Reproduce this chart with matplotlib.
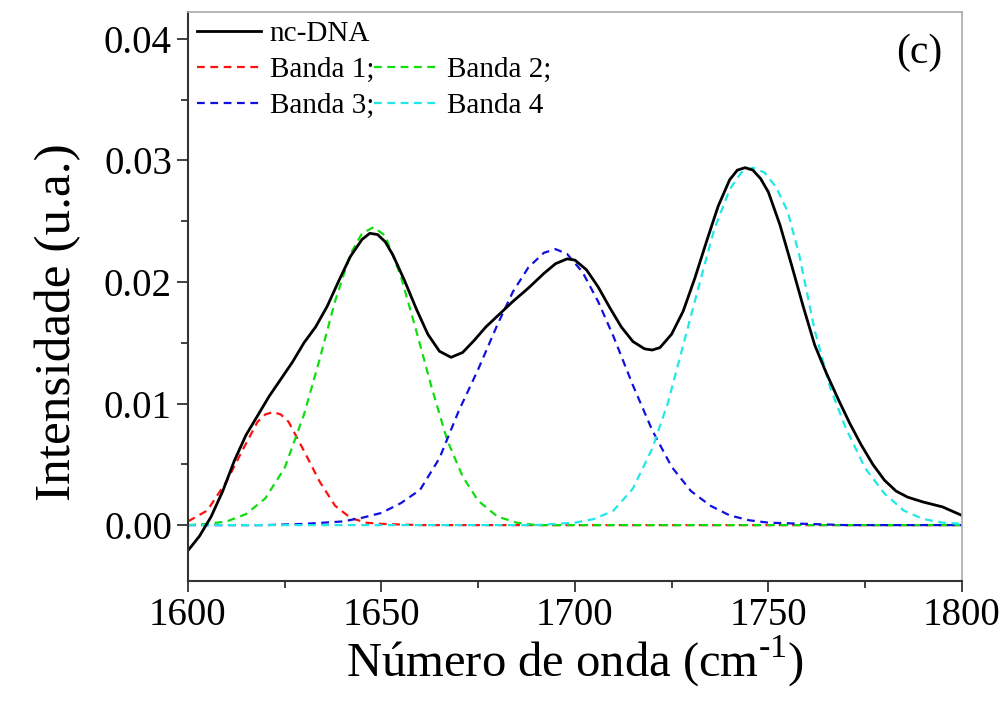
import numpy as np
import matplotlib
matplotlib.use("Agg")
import matplotlib.pyplot as plt
from matplotlib.ticker import MultipleLocator, FormatStrFormatter
from matplotlib.lines import Line2D

plt.rcParams['font.family'] = 'serif'
plt.rcParams['font.serif'] = ['Liberation Serif', 'DejaVu Serif']
plt.rcParams['mathtext.fontset'] = 'custom'
plt.rcParams['mathtext.rm'] = 'Liberation Serif'

# values
x_dna = [1600, 1603, 1606, 1609, 1612, 1615, 1618, 1621, 1624, 1627, 1630, 1633,
         1636, 1639, 1642, 1645, 1647, 1649, 1651, 1653, 1656, 1659, 1662, 1665,
         1668, 1671, 1674, 1677, 1680, 1684, 1688, 1692, 1695, 1698, 1700, 1703,
         1706, 1709, 1712, 1715, 1718, 1720, 1722, 1725, 1728, 1731, 1734, 1737,
         1740, 1742, 1744, 1746, 1748, 1750, 1753, 1756, 1759, 1762, 1765, 1768,
         1771, 1774, 1777, 1780, 1783, 1786, 1790, 1795, 1800]
y_dna = [-0.0021, -0.0009, 0.0007, 0.0028, 0.0053, 0.0074, 0.0090, 0.0106, 0.0120,
         0.0134, 0.0150, 0.0163, 0.0180, 0.0201, 0.0221, 0.0235, 0.0240, 0.0239,
         0.0233, 0.0222, 0.0201, 0.0178, 0.0157, 0.0143, 0.0138, 0.0142, 0.0152,
         0.0163, 0.0172, 0.0184, 0.0195, 0.0207, 0.0215, 0.0219, 0.0218, 0.0210,
         0.0196, 0.0179, 0.0163, 0.0151, 0.0145, 0.0144, 0.0146, 0.0157, 0.0176,
         0.0203, 0.0233, 0.0262, 0.0284, 0.0292, 0.0294, 0.0292, 0.0285, 0.0274,
         0.0247, 0.0214, 0.0180, 0.0148, 0.0125, 0.0104, 0.0084, 0.0066, 0.0050,
         0.0037, 0.0028, 0.0023, 0.0019, 0.0015, 0.0008]

x_b1 = [1600, 1605, 1610, 1614, 1618, 1620, 1622, 1624, 1626, 1630, 1634, 1638,
        1642, 1646, 1650, 1660, 1700, 1750, 1800]
y_b1 = [0.0003, 0.0012, 0.0036, 0.0061, 0.0085, 0.0091, 0.0093, 0.0091, 0.0085,
        0.0061, 0.0036, 0.0016, 0.0006, 0.0002, 0.0001, 0.0, 0.0, 0.0, 0.0]

x_b2 = [1600, 1605, 1610, 1615, 1620, 1625, 1630, 1634, 1638, 1642, 1645, 1648,
        1651, 1655, 1659, 1663, 1667, 1671, 1675, 1680, 1685, 1690, 1750, 1800]
y_b2 = [0.0000, 0.0001, 0.0003, 0.0009, 0.0022, 0.0047, 0.0091, 0.0136, 0.0184,
        0.0223, 0.0240, 0.0245, 0.0238, 0.0205, 0.0160, 0.0113, 0.0070, 0.0040,
        0.0020, 0.0007, 0.0002, 0.0000, 0.0, 0.0]

x_b3 = [1600, 1620, 1630, 1640, 1645, 1650, 1655, 1660, 1665, 1670, 1675, 1680,
        1684, 1688, 1692, 1695, 1698, 1702, 1706, 1710, 1715, 1720, 1725, 1730,
        1735, 1740, 1745, 1750, 1760, 1770, 1800]
y_b3 = [0.0, 0.0, 0.0001, 0.0003, 0.0006, 0.0010, 0.0018, 0.0029, 0.0055, 0.0094,
        0.0128, 0.0165, 0.0192, 0.0212, 0.0224, 0.0227, 0.0223, 0.0208, 0.0184,
        0.0155, 0.0115, 0.0078, 0.0048, 0.0028, 0.0016, 0.0008, 0.0004, 0.0002,
        0.0001, 0.0, 0.0]

x_b4 = [1600, 1650, 1690, 1695, 1700, 1705, 1710, 1715, 1720, 1724, 1728, 1732,
        1736, 1740, 1743, 1746, 1749, 1752, 1755, 1758, 1762, 1766, 1770, 1775,
        1780, 1785, 1790, 1795, 1800]
y_b4 = [0.0, 0.0, 0.0, 0.0001, 0.0002, 0.0005, 0.0012, 0.0030, 0.0063, 0.0100,
        0.0148, 0.0196, 0.0243, 0.0276, 0.0290, 0.0294, 0.0290, 0.0278, 0.0258,
        0.0222, 0.0160, 0.0113, 0.0080, 0.0047, 0.0026, 0.0012, 0.0005, 0.0002,
        0.0001]

fig = plt.figure(figsize=(10.05, 7.09), dpi=100)
ax = fig.add_axes([0.187, 0.1805, 0.770, 0.8025])

dash = (3.5, 2.5)
l1, = ax.plot(x_b1, y_b1, color='#ff1010', lw=1.6, dashes=dash, label='Banda 1;')
l2, = ax.plot(x_b2, y_b2, color='#10dd10', lw=1.6, dashes=dash, label='Banda 2;')
l3, = ax.plot(x_b3, y_b3, color='#1010e0', lw=1.6, dashes=dash, label='Banda 3;')
l4, = ax.plot(x_b4, y_b4, color='#20e8e8', lw=1.6, dashes=dash, label='Banda 4')
l0, = ax.plot(x_dna, y_dna, color='black', lw=2.0, label='nc-DNA')

ax.set_xlim(1600, 1800)
ax.set_ylim(-0.0046, 0.0422)
ax.xaxis.set_major_locator(MultipleLocator(50))
ax.xaxis.set_minor_locator(MultipleLocator(25))
ax.yaxis.set_major_locator(MultipleLocator(0.01))
ax.yaxis.set_minor_locator(MultipleLocator(0.005))
ax.yaxis.set_major_formatter(FormatStrFormatter('%.2f'))
ax.tick_params(which='both', direction='out', top=False, right=False,
               labelsize=28, width=1.3, color='#333333')
ax.tick_params(which='major', length=8)
ax.tick_params(which='minor', length=5)
for s in ['left', 'bottom']:
    ax.spines[s].set_color('#333333')
    ax.spines[s].set_linewidth(1.5)
for s in ['top', 'right']:
    ax.spines[s].set_color('#aaaaaa')
    ax.spines[s].set_linewidth(1.2)

ax.set_xlabel(r'Número de onda (cm$^{\text{-}1}$)', fontsize=35, labelpad=0)
ax.set_ylabel('Intensidade (u.a.)', fontsize=37)
ax.yaxis.set_label_coords(-0.138, 0.455)

blank = Line2D([], [], color='none')
ax.legend([l0, l1, l3, blank, l2, l4],
          ['nc-DNA', 'Banda 1;', 'Banda 3;', '', 'Banda 2;', 'Banda 4'],
          ncol=2, loc='upper left', frameon=False, fontsize=21,
          handlelength=2.2, handletextpad=0.3, columnspacing=0.0,
          labelspacing=0.32, borderaxespad=0.1, borderpad=0.2)

ax.text(0.975, 0.962, '(c)', transform=ax.transAxes, fontsize=30,
        ha='right', va='top')

fig.savefig('out.png', dpi=100)
